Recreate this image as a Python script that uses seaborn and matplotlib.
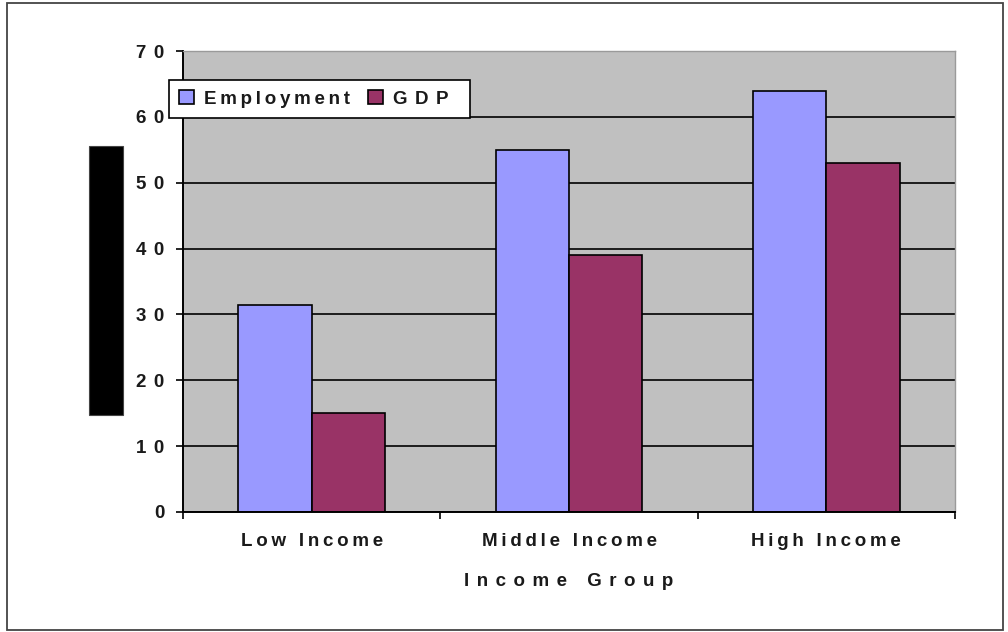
import matplotlib
matplotlib.use("Agg")
import matplotlib.pyplot as plt
from matplotlib.patches import Patch, Rectangle
import pandas as pd
import seaborn as sns

# Share of employment and GDP by income group (%)
groups = ["Low Income", "Middle Income", "High Income"]
employment = [31.5, 55, 64]
gdp = [15, 39, 53]
series_names = ["Employment", "GDP"]
y_ticks = [0, 10, 20, 30, 40, 50, 60, 70]
x_label = "Income Group"

colors = ["#9999FF", "#993366"]
text_color = "#1a1a1a"

sns.set_theme(style="white")
plt.rcParams["font.family"] = ["Liberation Sans", "DejaVu Sans"]

GAP = "\u2009"  # thin space


def spaced(s, k=1):
    """Widen letter spacing by inserting thin spaces between characters."""
    return (GAP * k).join(s)


df = pd.DataFrame({
    "group": groups * 2,
    "value": employment + gdp,
    "series": [series_names[0]] * len(groups) + [series_names[1]] * len(groups),
})

W, H = 1008, 632
FS = 13.5
fig = plt.figure(figsize=(W / 100, H / 100), dpi=100)
ax = fig.add_axes([183 / W, 1 - 512 / H, (955 - 183) / W, (512 - 51) / H])
ax.set_facecolor("#C0C0C0")

sns.barplot(
    data=df, x="group", y="value", hue="series", order=groups,
    hue_order=series_names, palette=colors, saturation=1, width=0.57,
    edgecolor="black", linewidth=1.2, legend=False, ax=ax,
)

# y axis
ax.set_ylim(0, 70)
ax.set_yticks(y_ticks)
ax.set_yticklabels([spaced(str(v), 2) for v in y_ticks], fontsize=FS,
                   fontweight="bold", color=text_color)
ax.yaxis.grid(True, color="black", linewidth=1.2)
ax.set_axisbelow(True)
ax.tick_params(axis="y", which="major", direction="out", length=5, width=1.2,
               color="black", pad=8.5, left=True)

# x axis: tick marks between categories, labels centred on categories
ax.set_xlim(-0.5, len(groups) - 0.5)
ax.set_xticks([i - 0.5 for i in range(len(groups) + 1)])
ax.set_xticklabels([])
ax.set_xticks(range(len(groups)), minor=True)
ax.set_xticklabels([spaced(g, 1) for g in groups], minor=True, fontsize=FS,
                   fontweight="bold", color=text_color)
ax.tick_params(axis="x", which="major", direction="out", length=5, width=1.2,
               color="black", bottom=True)
ax.tick_params(axis="x", which="minor", length=0, pad=15)

ax.set_xlabel(spaced(x_label, 2), fontsize=FS, fontweight="bold",
              color=text_color, labelpad=17)
ax.set_ylabel("")

for side in ("left", "bottom"):
    ax.spines[side].set_color("black")
    ax.spines[side].set_linewidth(1.4)
for side in ("top", "right"):
    ax.spines[side].set_color("#9a9a9a")
    ax.spines[side].set_linewidth(1.0)

# legend
handles = [Patch(facecolor=c, edgecolor="black", linewidth=1.2) for c in colors]
leg = fig.legend(
    handles, [spaced(series_names[0], 1), spaced(series_names[1], 2) + GAP * 3],
    loc="upper left", bbox_to_anchor=(169 / W, 1 - 80 / H), ncol=2,
    prop={"size": FS, "weight": "bold"}, frameon=True, fancybox=False,
    framealpha=1, handlelength=0.8, handleheight=0.8, handletextpad=0.53,
    columnspacing=0.96, borderpad=0.54, borderaxespad=0,
)
leg.get_frame().set_edgecolor("black")
leg.get_frame().set_linewidth(1.2)
for t in leg.get_texts():
    t.set_color(text_color)

# solid block beside the value axis
fig.patches.append(Rectangle((89 / W, 1 - 415 / H), 34 / W, 269 / H,
                             transform=fig.transFigure, facecolor="black",
                             edgecolor="#444444", linewidth=0.8))

# chart-area border
fig.patches.append(Rectangle((7 / W, 2 / H), 996 / W, 627 / H,
                             transform=fig.transFigure, facecolor="none",
                             edgecolor="#444444", linewidth=1.3))

fig.savefig("out.png", dpi=100, facecolor="white")
